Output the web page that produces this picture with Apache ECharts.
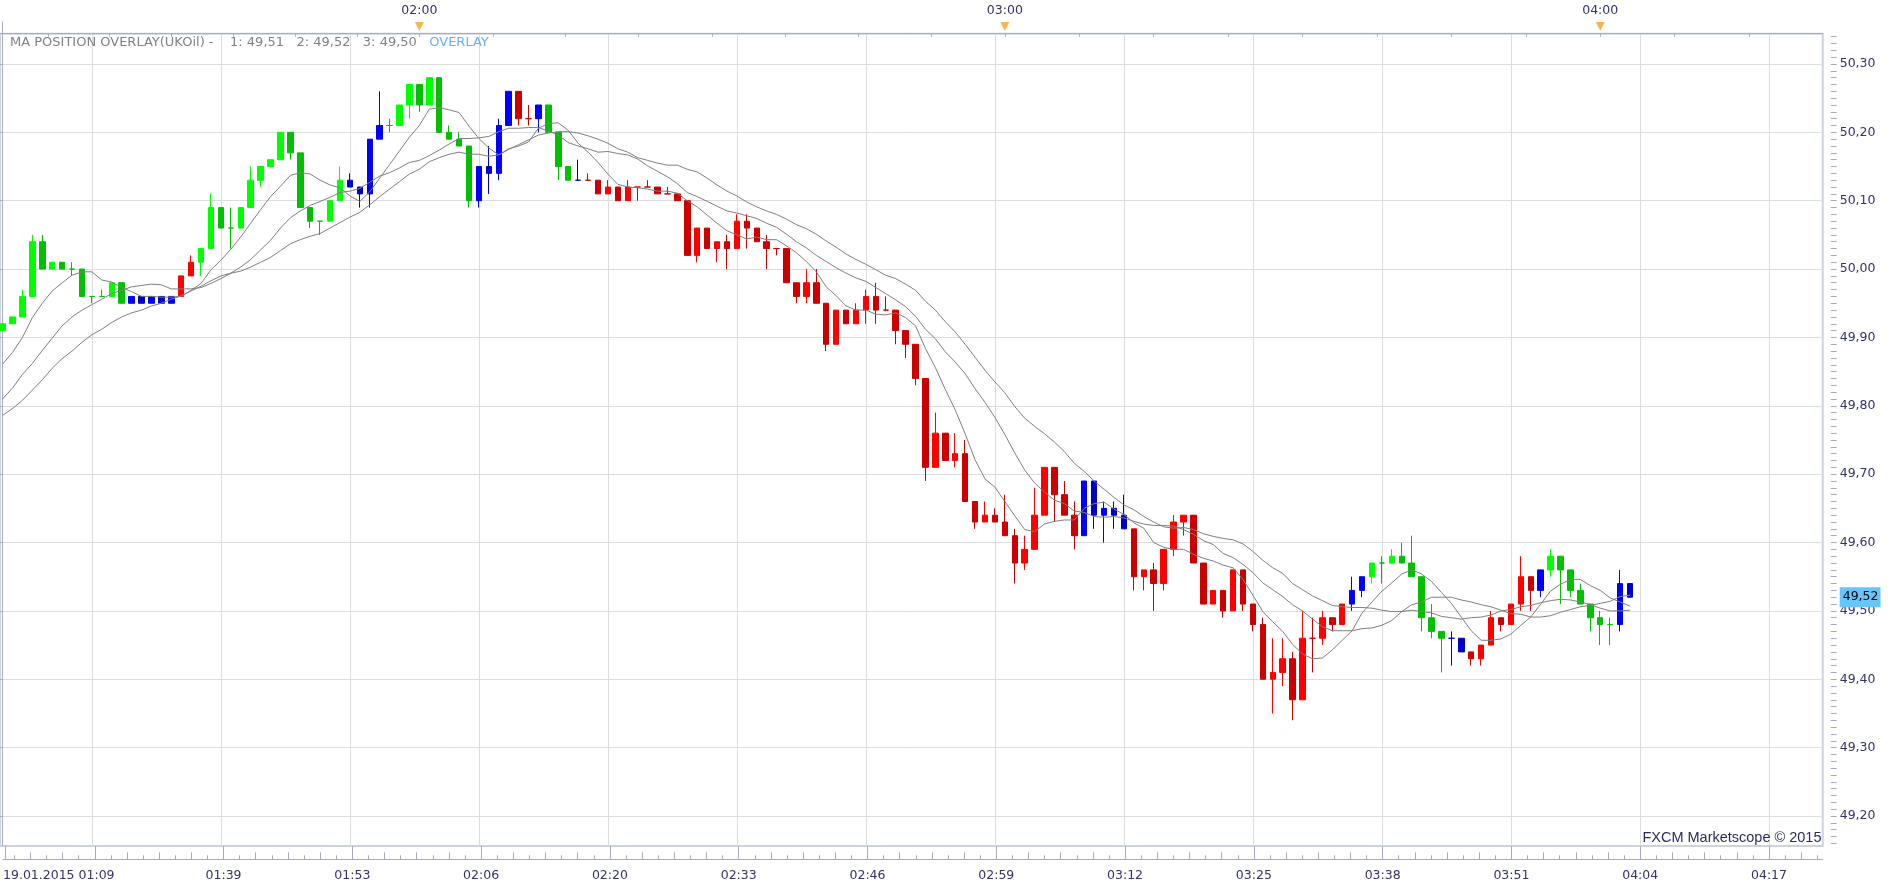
<!DOCTYPE html>
<html><head><meta charset="utf-8">
<script src="https://cdn.jsdelivr.net/npm/echarts@6/dist/echarts.min.js"></script>
<style>html,body{margin:0;padding:0;background:#fff}#c{width:1903px;height:889px}</style>
</head><body><div id="c"></div>
<script>
// ---------- DATA (one-minute candles, UKOil, 19.01.2015) ----------
const opens = [
49.91,49.92,49.93,49.96,50.04,50.00,50.01,50.00,50.00,49.96,
49.96,49.96,49.98,49.95,49.96,49.95,49.96,49.95,49.96,49.99,
50.01,50.03,50.09,50.06,50.06,50.09,50.13,50.15,50.16,50.20,
50.17,50.09,50.07,50.07,50.10,50.13,50.12,50.11,50.19,50.21,
50.21,50.24,50.27,50.24,50.28,50.20,50.19,50.18,50.10,50.15,
50.14,50.21,50.26,50.22,50.22,50.24,50.20,50.15,50.13,50.13,
50.13,50.11,50.12,50.10,50.12,50.12,50.12,50.11,50.11,50.10,
50.02,50.06,50.03,50.04,50.03,50.07,50.06,50.04,50.03,50.03,
49.98,49.96,49.98,49.95,49.89,49.94,49.92,49.94,49.96,49.94,
49.94,49.91,49.89,49.84,49.71,49.76,49.72,49.73,49.66,49.63,
49.64,49.63,49.61,49.57,49.59,49.64,49.71,49.67,49.64,49.61,
49.69,49.64,49.65,49.64,49.62,49.55,49.56,49.54,49.59,49.63,
49.64,49.57,49.51,49.53,49.50,49.56,49.51,49.48,49.40,49.41,
49.43,49.37,49.46,49.46,49.49,49.48,49.51,49.53,49.55,49.57,
49.57,49.58,49.57,49.55,49.49,49.47,49.46,49.46,49.44,49.43,
49.45,49.49,49.48,49.51,49.55,49.53,49.56,49.58,49.56,49.53,
49.51,49.49,49.48,49.48,49.54];
const closes = [
49.92,49.93,49.96,50.04,50.00,50.01,50.00,50.00,49.96,49.96,
49.96,49.98,49.95,49.96,49.95,49.96,49.95,49.96,49.99,50.01,
50.03,50.09,50.06,50.06,50.09,50.13,50.15,50.16,50.20,50.17,
50.09,50.07,50.07,50.10,50.13,50.12,50.11,50.19,50.21,50.21,
50.24,50.27,50.24,50.28,50.20,50.19,50.18,50.10,50.15,50.14,
50.21,50.26,50.22,50.22,50.24,50.20,50.15,50.13,50.13,50.13,
50.11,50.12,50.10,50.12,50.12,50.12,50.11,50.11,50.10,50.02,
50.06,50.03,50.04,50.03,50.07,50.06,50.04,50.03,50.03,49.98,
49.96,49.98,49.95,49.89,49.94,49.92,49.94,49.96,49.94,49.94,
49.91,49.89,49.84,49.71,49.76,49.72,49.73,49.66,49.63,49.64,
49.63,49.61,49.57,49.59,49.64,49.71,49.67,49.64,49.61,49.69,
49.64,49.65,49.64,49.62,49.55,49.56,49.54,49.59,49.63,49.64,
49.57,49.51,49.53,49.50,49.56,49.51,49.48,49.40,49.41,49.43,
49.37,49.46,49.46,49.49,49.48,49.51,49.53,49.55,49.57,49.57,
49.58,49.57,49.55,49.49,49.47,49.46,49.46,49.44,49.43,49.45,
49.49,49.48,49.51,49.55,49.53,49.56,49.58,49.56,49.53,49.51,
49.49,49.48,49.48,49.54,49.52];
const lows = [
49.91,49.92,49.93,49.96,50.00,50.00,50.00,49.99,49.96,49.95,
49.96,49.96,49.95,49.95,49.95,49.95,49.95,49.95,49.96,49.99,
49.99,50.03,50.06,50.03,50.06,50.09,50.12,50.15,50.16,50.16,
50.09,50.06,50.05,50.07,50.10,50.12,50.09,50.09,50.19,50.20,
50.21,50.22,50.23,50.24,50.20,50.19,50.18,50.09,50.09,50.11,
50.13,50.21,50.21,50.21,50.20,50.20,50.13,50.13,50.13,50.13,
50.11,50.11,50.10,50.10,50.10,50.12,50.11,50.11,50.10,50.02,
50.01,50.03,50.01,50.00,50.03,50.03,50.04,50.00,50.02,49.98,
49.95,49.95,49.95,49.88,49.89,49.92,49.92,49.92,49.92,49.94,
49.89,49.87,49.83,49.69,49.71,49.72,49.71,49.66,49.62,49.63,
49.63,49.61,49.54,49.56,49.59,49.64,49.63,49.64,49.59,49.61,
49.62,49.60,49.62,49.62,49.53,49.53,49.50,49.53,49.58,49.61,
49.57,49.51,49.51,49.49,49.50,49.50,49.47,49.40,49.35,49.39,
49.34,49.37,49.41,49.45,49.47,49.48,49.50,49.52,49.54,49.54,
49.57,49.57,49.55,49.47,49.46,49.41,49.42,49.44,49.42,49.42,
49.45,49.47,49.48,49.50,49.50,49.52,49.55,49.51,49.52,49.51,
49.47,49.45,49.45,49.47,49.52];
const highs = [
49.92,49.93,49.97,50.05,50.05,50.01,50.01,50.01,50.00,49.96,
49.97,49.98,49.98,49.96,49.96,49.96,49.96,49.96,49.99,50.02,
50.03,50.11,50.09,50.09,50.09,50.15,50.15,50.16,50.20,50.20,
50.17,50.09,50.07,50.10,50.15,50.14,50.12,50.19,50.26,50.22,
50.24,50.27,50.27,50.28,50.28,50.21,50.20,50.18,50.15,50.18,
50.22,50.26,50.26,50.24,50.24,50.24,50.20,50.15,50.16,50.14,
50.13,50.13,50.12,50.13,50.12,50.13,50.12,50.12,50.11,50.10,
50.06,50.06,50.04,50.05,50.08,50.08,50.06,50.05,50.03,50.03,
49.98,50.00,50.00,49.95,49.94,49.94,49.95,49.97,49.98,49.96,
49.94,49.91,49.89,49.84,49.79,49.76,49.76,49.75,49.66,49.66,
49.65,49.67,49.62,49.61,49.68,49.71,49.71,49.69,49.66,49.69,
49.69,49.66,49.66,49.67,49.62,49.56,49.57,49.59,49.64,49.64,
49.64,49.57,49.53,49.53,49.56,49.56,49.51,49.49,49.46,49.46,
49.44,49.50,49.49,49.50,49.49,49.51,49.55,49.55,49.57,49.58,
49.59,49.60,49.61,49.55,49.51,49.47,49.47,49.46,49.44,49.45,
49.50,49.49,49.51,49.58,49.55,49.56,49.59,49.58,49.56,49.54,
49.51,49.50,49.49,49.56,49.54];
// MA position zone of each candle: G = green, R = red, B = blue
const zones = ('GGGGGGGGGG'+'GGGBBBBBRR'+'GGGGGGGGGG'+'GGGGGBBBBG'+'GGGGGGGGBB'+
  'BBRRBGGGBR'+'RRRRRRRRRR'+'RRRRRRRRRR'+'RRRRRRRRRR'+'RRRRRRRRRR'+
  'RRRRRRRRRB'+'BBBBRRRRRR'+'RRRRRRRRRR'+'RRRRRRBBGG'+'GGGGGGBBRR'+
  'RRRRRBGGGG'+'GGGBB').split('');
const ma1 = [
49.861,49.878,49.900,49.929,49.950,49.968,49.980,49.991,49.996,49.996,
49.984,49.981,49.973,49.967,49.960,49.960,49.959,49.959,49.960,49.969,
49.979,49.999,50.013,50.029,50.047,50.067,50.087,50.106,50.121,50.137,
50.141,50.139,50.130,50.123,50.119,50.107,50.099,50.113,50.133,50.153,
50.173,50.193,50.210,50.234,50.236,50.233,50.229,50.209,50.191,50.177,
50.167,50.176,50.180,50.186,50.206,50.213,50.214,50.203,50.184,50.171,
50.156,50.139,50.124,50.120,50.119,50.117,50.114,50.114,50.111,50.100,
50.091,50.079,50.067,50.056,50.050,50.044,50.047,50.043,50.043,50.034,
50.024,50.011,49.996,49.974,49.961,49.946,49.940,49.940,49.934,49.933,
49.936,49.929,49.917,49.884,49.856,49.824,49.794,49.759,49.721,49.693,
49.681,49.660,49.639,49.619,49.616,49.627,49.631,49.633,49.633,49.650,
49.657,49.659,49.649,49.641,49.629,49.621,49.600,49.593,49.590,49.590,
49.583,49.577,49.573,49.567,49.563,49.546,49.523,49.499,49.484,49.470,
49.451,49.437,49.430,49.431,49.443,49.457,49.471,49.497,49.513,49.529,
49.541,49.554,49.560,49.554,49.543,49.527,49.511,49.491,49.471,49.457,
49.457,49.459,49.466,49.479,49.491,49.510,49.529,49.539,49.546,49.546,
49.537,49.530,49.519,49.513,49.507];
const ma2 = [
49.810,49.826,49.846,49.862,49.881,49.899,49.917,49.930,49.940,49.948,
49.956,49.964,49.969,49.974,49.976,49.978,49.977,49.971,49.971,49.971,
49.973,49.979,49.986,49.994,50.003,50.014,50.028,50.042,50.060,50.075,
50.085,50.093,50.099,50.105,50.112,50.114,50.118,50.127,50.136,50.141,
50.148,50.156,50.159,50.166,50.174,50.183,50.191,50.191,50.192,50.194,
50.201,50.206,50.206,50.207,50.207,50.202,50.196,50.185,50.180,50.176,
50.171,50.172,50.169,50.167,50.161,50.151,50.143,50.135,50.125,50.112,
50.106,50.099,50.092,50.085,50.082,50.078,50.074,50.067,50.061,50.051,
50.040,50.031,50.020,50.011,50.002,49.994,49.987,49.982,49.973,49.964,
49.955,49.945,49.931,49.912,49.898,49.879,49.864,49.847,49.825,49.805,
49.783,49.758,49.731,49.706,49.687,49.674,49.662,49.657,49.646,49.644,
49.638,49.637,49.638,49.636,49.631,49.627,49.625,49.625,49.624,49.619,
49.612,49.603,49.597,49.584,49.578,49.568,49.556,49.541,49.531,49.521,
49.509,49.500,49.488,49.477,49.471,49.471,49.471,49.474,49.475,49.479,
49.486,49.499,49.509,49.513,49.520,49.520,49.520,49.516,49.513,49.509,
49.506,49.501,49.496,49.495,49.491,49.491,49.493,49.498,49.502,49.506,
49.508,49.511,49.514,49.521,49.523];
const ma3 = [
49.786,49.796,49.808,49.823,49.838,49.855,49.869,49.880,49.893,49.904,
49.912,49.922,49.930,49.936,49.940,49.946,49.950,49.956,49.961,49.968,
49.975,49.983,49.990,49.994,49.997,50.003,50.010,50.017,50.027,50.037,
50.043,50.048,50.052,50.060,50.068,50.076,50.083,50.094,50.106,50.117,
50.128,50.139,50.146,50.157,50.163,50.168,50.171,50.168,50.168,50.165,
50.167,50.175,50.182,50.189,50.196,50.199,50.201,50.201,50.199,50.195,
50.190,50.184,50.176,50.171,50.163,50.159,50.155,50.152,50.152,50.146,
50.142,50.133,50.123,50.114,50.107,50.098,50.091,50.085,50.080,50.073,
50.065,50.059,50.051,50.041,50.032,50.022,50.014,50.007,49.999,49.991,
49.986,49.978,49.969,49.953,49.940,49.923,49.908,49.890,49.871,49.852,
49.835,49.819,49.799,49.782,49.770,49.759,49.747,49.733,49.716,49.704,
49.690,49.678,49.666,49.655,49.648,49.638,49.630,49.623,49.621,49.622,
49.619,49.613,49.609,49.606,49.604,49.598,49.587,49.574,49.563,49.555,
49.540,49.531,49.522,49.515,49.508,49.506,49.505,49.505,49.504,49.501,
49.499,49.499,49.501,49.499,49.497,49.492,49.490,49.488,49.490,49.491,
49.494,49.500,49.502,49.506,49.508,49.512,49.515,49.517,49.516,49.513,
49.509,49.504,49.500,49.500,49.501];

// ---------- TICKS / LABELS ----------
const priceTicks = [49.2,49.3,49.4,49.5,49.6,49.7,49.8,49.9,50.0,50.1,50.2,50.3];
const gridCandles = [9,22,35,48,61,74,87,100,113,126,139,152,165,178];
const timeTickPos = [22,35,48,61,74,87,100,113,126,139,152,165,178];
const timeTickLabels = ['01:39','01:53','02:06','02:20','02:33','02:46','02:59','03:12','03:25','03:38','03:51','04:04','04:17'];
const startLabel = '19.01.2015 01:09';
const hourPos = [42,101,161];
const hourLabels = ['02:00','03:00','04:00'];
const topTickPos = [4.56,10.76,17.01,23.27,29.52,35.77,42,49.4,56.75,64.1,71.5,78.9,86.25,93.6,101,108.5,116,123.5,131,138.5,146,153.5,161,168.5,176];

// ---------- LAYOUT ----------
const X_MIN = -0.262, X_MAX = 183.42;
const Y_MIN = 49.1561, Y_MAX = 50.3443;
const GRID_RIGHT = 80.3;
const AX = '#a6aebb';
const TXT = '#33336b';
const FONT = 'DejaVu Sans';

const quarterTicks = [], eighthTicks = [], minorPrice = [];
for (let i = -3; i < 60; i++) { const v = 9 + 3.25 * i; if (v > X_MIN && v < X_MAX) quarterTicks.push(+v.toFixed(3)); }
for (let i = -6; i < 120; i++) { const v = 9 + 1.625 * (2 * i + 1); if (v > X_MIN && v < X_MAX) eighthTicks.push(+v.toFixed(3)); }
for (let i = 4916; i <= 5034; i++) minorPrice.push(i / 100);

const COLORS = { G: ['#00ff00', '#00c000'], R: ['#ff0000', '#cc0000'], B: ['#0000ff', '#0000c8'] };
const candleData = closes.map((c, k) => {
  const col = COLORS[zones[k]][c > opens[k] ? 0 : 1];
  return { value: [k, opens[k], c, lows[k], highs[k]],
    itemStyle: { color: col, color0: col, borderColor: col, borderColor0: col, borderColorDoji: col } };
});
const fmt2 = v => v.toFixed(2).replace('.', ',');
const last = closes[closes.length - 1];
const legendText = 'MA POSITION OVERLAY(UKOil) -    1: ' + fmt2(ma1[ma1.length-1]) + '   2: ' + fmt2(ma2[ma2.length-1]) +
  '   3: ' + fmt2(ma3[ma3.length-1]) + '   {o|OVERLAY}';

const chart = echarts.init(document.getElementById('c'), null, { renderer: 'canvas' });
chart.setOption({
  animation: false,
  backgroundColor: '#ffffff',
  title: [
    { text: legendText, left: 10, top: 36, padding: 0,
      textStyle: { fontFamily: FONT, fontSize: 13, fontWeight: 'normal', color: '#828282',
        rich: { o: { fontFamily: FONT, fontSize: 13, color: '#6aaef6' } } } },
    { text: 'FXCM Marketscope © 2015', right: 1903 - 1821.5, top: 830, padding: 0,
      textStyle: { fontFamily: 'Liberation Sans', fontSize: 14.5, fontWeight: 'normal', color: '#2b2b60' } }
  ],
  grid: [
    { left: 0, right: GRID_RIGHT, top: 33.7, bottom: 43, show: true, borderColor: '#ccd3dd', borderWidth: 2, containLabel: false },
    { left: 0, right: GRID_RIGHT, top: 22, height: 11.7, containLabel: false },
    { left: 0, right: GRID_RIGHT, top: 846, height: 13.3, containLabel: false }
  ],
  xAxis: [
    { gridIndex: 0, type: 'value', min: X_MIN, max: X_MAX, position: 'bottom',
      axisLine: { show: false }, axisTick: { show: false, customValues: gridCandles },
      axisLabel: { show: false }, splitLine: { show: true, lineStyle: { color: '#dcdde1', width: 1 } } },
    { gridIndex: 2, type: 'value', min: X_MIN, max: X_MAX, position: 'bottom',
      axisLine: { show: true, lineStyle: { color: AX } },
      axisTick: { show: true, inside: true, length: 13.3, customValues: gridCandles, lineStyle: { color: AX } },
      axisLabel: { customValues: timeTickPos, formatter: v => timeTickLabels[timeTickPos.indexOf(Math.round(v))] || '',
        color: TXT, fontFamily: FONT, fontSize: 12.5, margin: 10 },
      splitLine: { show: false } },
    { gridIndex: 2, type: 'value', min: X_MIN, max: X_MAX, position: 'bottom',
      axisLine: { show: false },
      axisTick: { show: true, inside: true, length: 7, customValues: quarterTicks, lineStyle: { color: AX } },
      axisLabel: { customValues: [X_MIN], formatter: () => startLabel, align: 'left',
        color: TXT, fontFamily: FONT, fontSize: 12.5, margin: 10 },
      splitLine: { show: false } },
    { gridIndex: 2, type: 'value', min: X_MIN, max: X_MAX, position: 'bottom',
      axisLine: { show: false },
      axisTick: { show: true, inside: true, length: 4, customValues: eighthTicks, lineStyle: { color: AX } },
      axisLabel: { show: false }, splitLine: { show: false } },
    { gridIndex: 1, type: 'value', min: X_MIN, max: X_MAX, position: 'top',
      axisLine: { show: true, lineStyle: { color: AX } },
      axisTick: { show: true, inside: true, length: 3, customValues: topTickPos, lineStyle: { color: AX } },
      axisLabel: { customValues: hourPos, formatter: v => hourLabels[hourPos.indexOf(Math.round(v))] || '',
        color: TXT, fontFamily: FONT, fontSize: 12.5, margin: 5 },
      splitLine: { show: false } }
  ],
  yAxis: [
    { gridIndex: 0, type: 'value', min: Y_MIN, max: Y_MAX, position: 'right', offset: 14,
      axisLine: { show: true, lineStyle: { color: AX } },
      axisTick: { show: true, inside: true, length: 14, customValues: priceTicks, lineStyle: { color: AX } },
      axisLabel: { customValues: priceTicks, formatter: v => fmt2(v), color: TXT, fontFamily: FONT, fontSize: 12.5, margin: 3 },
      splitLine: { show: true, lineStyle: { color: '#dcdde1', width: 1 } } },
    { gridIndex: 0, type: 'value', min: Y_MIN, max: Y_MAX, position: 'right', offset: 14,
      axisLine: { show: false },
      axisTick: { show: true, inside: true, length: 6, customValues: minorPrice, lineStyle: { color: AX } },
      axisLabel: { show: false }, splitLine: { show: false } },
    { gridIndex: 2, type: 'value', min: 0, max: 1, position: 'right', offset: 14,
      axisLine: { show: true, lineStyle: { color: AX } }, axisTick: { show: false }, axisLabel: { show: false }, splitLine: { show: false } },
    { gridIndex: 1, type: 'value', min: 0, max: 1, position: 'right', offset: 14,
      axisLine: { show: true, lineStyle: { color: AX } }, axisTick: { show: false }, axisLabel: { show: false }, splitLine: { show: false } }
  ],
  series: [
    { type: 'candlestick', xAxisIndex: 0, yAxisIndex: 0,
      dimensions: ['x', 'open', 'close', 'lowest', 'highest'],
      encode: { x: 'x', y: ['open', 'close', 'lowest', 'highest'] },
      data: candleData, barWidth: 6, itemStyle: { borderWidth: 1 }, z: 2,
      markLine: { silent: true, symbol: ['none', 'none'], animation: false, z: 10,
        lineStyle: { color: 'rgba(0,0,0,0)', width: 1, type: 'solid' },
        label: { show: true, position: 'end', distance: 17, formatter: () => fmt2(last), opacity: 1,
          backgroundColor: '#66c6fb', color: '#000', fontFamily: FONT, fontSize: 12.5, padding: [4, 2, 3, 3] },
        emphasis: { disabled: true },
        data: [{ yAxis: last }] } },
    { type: 'line', xAxisIndex: 0, yAxisIndex: 0, data: ma1.map((v, k) => [k, v]), showSymbol: false, symbol: 'none',
      lineStyle: { color: '#7f7f7f', width: 1 }, z: 3, silent: true },
    { type: 'line', xAxisIndex: 0, yAxisIndex: 0, data: ma2.map((v, k) => [k, v]), showSymbol: false, symbol: 'none',
      lineStyle: { color: '#7f7f7f', width: 1 }, z: 3, silent: true },
    { type: 'line', xAxisIndex: 0, yAxisIndex: 0, data: ma3.map((v, k) => [k, v]), showSymbol: false, symbol: 'none',
      lineStyle: { color: '#7f7f7f', width: 1 }, z: 3, silent: true },
    { type: 'scatter', xAxisIndex: 4, yAxisIndex: 3, data: hourPos.map(k => [k, 1]), clip: false, silent: true,
      symbol: 'path://M0,0L10,0L5,9Z', symbolSize: [9, 9], symbolOffset: [0, 4.5],
      itemStyle: { color: '#f5a524' }, z: 5 }
  ]
});
</script></body></html>
